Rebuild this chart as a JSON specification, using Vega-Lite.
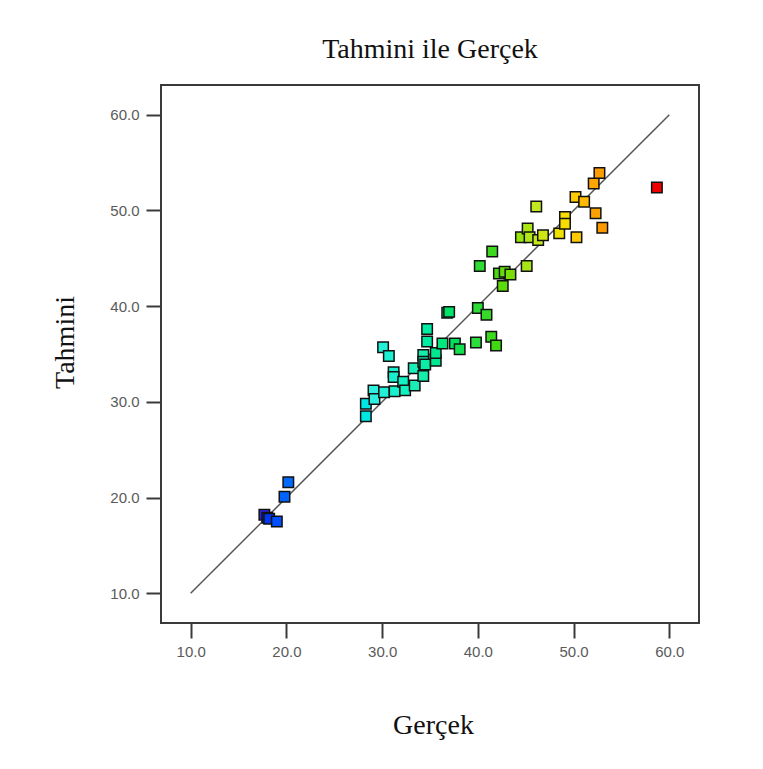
{
  "$schema": "https://vega.github.io/schema/vega-lite/v6.json",
  "width": 538,
  "height": 538,
  "autosize": "none",
  "padding": {"left": 161, "top": 85, "right": 64, "bottom": 146},
  "background": "white",
  "title": {
    "text": "Tahmini ile Gerçek",
    "font": "Liberation Serif",
    "fontSize": 28,
    "fontWeight": "normal",
    "color": "#111",
    "anchor": "middle",
    "baseline": "alphabetic",
    "offset": -1
  },
  "config": {
    "view": {"stroke": "#3a3a3a", "strokeWidth": 2}
  },
  "datasets": {
    "pts": [
      {"a": 20.2, "p": 21.6}, {"a": 19.8, "p": 20.1}, {"a": 17.7, "p": 18.2}, {"a": 18.0, "p": 17.9},
      {"a": 18.2, "p": 17.8}, {"a": 19.0, "p": 17.5},
      {"a": 28.3, "p": 28.5}, {"a": 28.3, "p": 29.8}, {"a": 29.1, "p": 31.2}, {"a": 29.2, "p": 30.3},
      {"a": 30.1, "p": 35.7}, {"a": 30.7, "p": 34.8}, {"a": 30.2, "p": 31.0}, {"a": 31.2, "p": 33.1},
      {"a": 31.2, "p": 32.6}, {"a": 31.3, "p": 31.1}, {"a": 32.2, "p": 32.1}, {"a": 32.4, "p": 31.2},
      {"a": 33.3, "p": 33.5}, {"a": 33.4, "p": 31.7}, {"a": 34.3, "p": 34.9}, {"a": 34.3, "p": 34.2},
      {"a": 34.5, "p": 33.9}, {"a": 34.3, "p": 32.7}, {"a": 34.7, "p": 37.6}, {"a": 34.7, "p": 36.3},
      {"a": 35.6, "p": 34.3}, {"a": 35.6, "p": 35.1}, {"a": 36.3, "p": 36.1}, {"a": 36.8, "p": 39.3},
      {"a": 37.0, "p": 39.4}, {"a": 37.6, "p": 36.1}, {"a": 38.1, "p": 35.5}, {"a": 39.8, "p": 36.2},
      {"a": 41.4, "p": 36.8}, {"a": 41.9, "p": 35.9}, {"a": 40.0, "p": 39.8}, {"a": 40.9, "p": 39.1},
      {"a": 40.2, "p": 44.2}, {"a": 41.5, "p": 45.7}, {"a": 42.2, "p": 43.4}, {"a": 42.8, "p": 43.6},
      {"a": 43.4, "p": 43.3}, {"a": 42.6, "p": 42.1}, {"a": 45.1, "p": 44.2}, {"a": 46.1, "p": 50.4},
      {"a": 44.5, "p": 47.2}, {"a": 45.2, "p": 48.1}, {"a": 45.4, "p": 47.2}, {"a": 46.3, "p": 46.9},
      {"a": 46.8, "p": 47.4}, {"a": 48.5, "p": 47.6}, {"a": 49.1, "p": 49.3}, {"a": 49.1, "p": 48.6},
      {"a": 50.3, "p": 47.2}, {"a": 50.2, "p": 51.4}, {"a": 51.1, "p": 50.9}, {"a": 52.3, "p": 49.7},
      {"a": 53.0, "p": 48.2}, {"a": 52.1, "p": 52.8}, {"a": 52.7, "p": 53.9}, {"a": 58.7, "p": 52.4}
    ],
    "diag": [{"a": 10, "p": 10}, {"a": 60, "p": 60}]
  },
  "encoding": {
    "x": {
      "field": "a", "type": "quantitative",
      "scale": {"domain": [6.9, 63.1], "nice": false, "zero": false},
      "axis": {
        "title": "Gerçek", "values": [10, 20, 30, 40, 50, 60], "format": ".1f",
        "domain": false, "grid": false,
        "tickSize": 15, "tickWidth": 2, "tickColor": "#3a3a3a",
        "labelFont": "Liberation Sans", "labelFontSize": 15, "labelColor": "#5a5a5a",
        "labelPadding": 6,
        "titleFont": "Liberation Serif", "titleFontSize": 28, "titleFontWeight": "normal",
        "titleColor": "#111", "titleBaseline": "alphabetic", "titleX": 272, "titleY": 110
      }
    },
    "y": {
      "field": "p", "type": "quantitative",
      "scale": {"domain": [6.9, 63.1], "nice": false, "zero": false},
      "axis": {
        "title": "Tahmini", "values": [10, 20, 30, 40, 50, 60], "format": ".1f",
        "domain": false, "grid": false,
        "tickSize": 15, "tickWidth": 2, "tickColor": "#3a3a3a",
        "labelFont": "Liberation Sans", "labelFontSize": 15, "labelColor": "#5a5a5a",
        "labelPadding": 7,
        "titleFont": "Liberation Serif", "titleFontSize": 28, "titleFontWeight": "normal",
        "titleColor": "#111", "titleBaseline": "alphabetic", "titleAngle": -90,
        "titleX": -88, "titleY": 257
      }
    }
  },
  "layer": [
    {
      "data": {"name": "diag"},
      "mark": {"type": "line", "color": "#555", "strokeWidth": 1.5},
      "encoding": {}
    },
    {
      "data": {"name": "pts"},
      "mark": {"type": "point", "shape": "square", "filled": true, "size": 110, "stroke": "#111", "strokeWidth": 1.5, "opacity": 1},
      "encoding": {
        "color": {
          "field": "a", "type": "quantitative", "legend": null,
          "scale": {
            "domain": [18, 29, 34, 38, 42, 46, 49, 52, 58.7],
            "range": ["#0030f0", "#30f0e0", "#20eeb0", "#10e050", "#40d810", "#c0e820", "#f8e000", "#ffa800", "#ee0000"]
          }
        }
      }
    }
  ]
}
